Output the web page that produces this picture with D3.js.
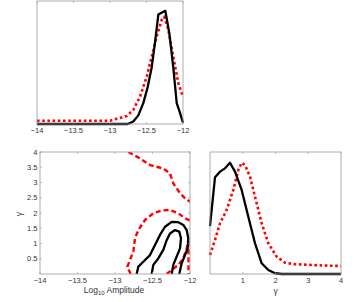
<!DOCTYPE html>
<meta charset="utf-8">
<html>
  <head>
    <script src="https://d3js.org/d3.v7.min.js"></script>
    <style>
      body { margin: 0; background: #fff; }
      text { font-family: "Liberation Sans", Arial, sans-serif; fill: #333; }
    </style>
  </head>
  <body>
    <svg id="viz" width="354" height="302"></svg>
    <script>
    // amplitude marginal (log10 amplitude, normalised density)
    const ampBlack = [[-14,0],[-12.8,0],[-12.757,0],[-12.681,0.02],[-12.612,0.07],[-12.544,0.17],[-12.484,0.30],
      [-12.429,0.46],[-12.384,0.66],[-12.338,0.89],[-12.242,0.92],[-12.188,0.74],[-12.133,0.46],[-12.086,0.17],
      [-12.041,0.09],[-12,0.01]];
    const ampRed = [[-14,0.027],[-13.0,0.027],[-12.886,0.046],[-12.771,0.065],[-12.681,0.114],[-12.589,0.222],
      [-12.497,0.385],[-12.429,0.547],[-12.36,0.71],[-12.292,0.846],[-12.256,0.872],[-12.201,0.764],
      [-12.133,0.547],[-12.064,0.331],[-12,0.222]];

    // gamma marginal
    const gamBlack = [[0,0.393],[0.153,0.793],[0.305,0.839],[0.458,0.866],[0.611,0.912],[0.763,0.839],
      [0.967,0.689],[1.17,0.47],[1.374,0.252],[1.578,0.088],[1.781,0.033],[1.985,0.006],[2.2,0],[4,0]];
    const gamRed = [[0,0.156],[0.153,0.279],[0.305,0.416],[0.509,0.525],[0.712,0.689],[0.865,0.852],
      [0.967,0.912],[1.069,0.893],[1.221,0.798],[1.374,0.634],[1.578,0.416],[1.781,0.252],[2.036,0.142],
      [2.29,0.093],[2.595,0.08],[3.104,0.074],[3.613,0.068],[4,0.066]];

    // joint contours (log10 amplitude, gamma)
    const blackOuter = [[-12.711,0],[-12.689,0.24],[-12.623,0.40],[-12.533,0.62],[-12.467,0.95],[-12.4,1.28],
      [-12.333,1.55],[-12.244,1.71],[-12.156,1.70],[-12.089,1.61],[-12.044,1.44],[-12.023,1.17],
      [-12.031,0.84],[-12.067,0.62],[-12.111,0.35],[-12.143,0]];
    const blackInner = [[-12.511,0],[-12.489,0.30],[-12.423,0.51],[-12.356,0.79],[-12.311,1.11],[-12.267,1.33],
      [-12.2,1.44],[-12.143,1.39],[-12.12,1.17],[-12.133,0.84],[-12.178,0.57],[-12.223,0.30],[-12.244,0]];
    const redInner = [[-12.791,0],[-12.836,0.24],[-12.756,0.73],[-12.733,1.17],[-12.689,1.44],[-12.6,1.77],
      [-12.489,1.99],[-12.377,2.08],[-12.267,2.10],[-12.156,1.99],[-12.067,1.83],[-12,1.75]];
    const redOuter = [[-12.822,4.0],[-12.667,3.79],[-12.533,3.57],[-12.356,3.46],[-12.267,3.30],[-12.223,2.97],
      [-12.133,2.65],[-12.067,2.48],[-12,2.37]];
    const redCorner = [[-12.311,0],[-12.156,0.30],[-12.089,0.51],[-12.044,0.84],[-12.023,1.06],[-12.02,0.62],[-12.02,0]];

    const ampTicks = [-14, -13.5, -13, -12.5, -12];
    const gamTicks = [0.5, 1, 1.5, 2, 2.5, 3, 3.5, 4];
    const gamXTicks = [1, 2, 3, 4];

    const svg = d3.select("#viz");
    const fmt = d => (d < 0 ? "\u2212" + Math.abs(d) : "" + d);

    function panel(x0, x1, y0, y1, xdom, ydom) {
      var x = d3.scaleLinear().domain(xdom).range([x0, x1]);
      var y = d3.scaleLinear().domain(ydom).range([y1, y0]);
      var g = svg.append("g");
      return {x: x, y: y, g: g};
    }

    function box(p, xt, yt) {
      var g = p.g;
      var r = p.x.range(), ry = p.y.range();
      // ticks on bottom/top (inward)
      xt.forEach(function(t) {
        g.append("line").attr("x1", p.x(t)).attr("x2", p.x(t)).attr("y1", ry[0]).attr("y2", ry[0] - 2)
          .attr("stroke", "#999").attr("stroke-width", 0.6);
        g.append("line").attr("x1", p.x(t)).attr("x2", p.x(t)).attr("y1", ry[1]).attr("y2", ry[1] + 2)
          .attr("stroke", "#999").attr("stroke-width", 0.6);
        g.append("text").attr("x", p.x(t)).attr("y", ry[0] + 8.5).attr("text-anchor", "middle")
          .attr("font-size", 7.5).text(fmt(t));
      });
      (yt || []).forEach(function(t) {
        g.append("line").attr("x1", r[0]).attr("x2", r[0] + 2).attr("y1", p.y(t)).attr("y2", p.y(t))
          .attr("stroke", "#999").attr("stroke-width", 0.6);
        g.append("line").attr("x1", r[1]).attr("x2", r[1] - 2).attr("y1", p.y(t)).attr("y2", p.y(t))
          .attr("stroke", "#999").attr("stroke-width", 0.6);
        g.append("text").attr("x", r[0] - 2.5).attr("y", p.y(t) + 2.7).attr("text-anchor", "end")
          .attr("font-size", 7.5).text(fmt(t));
      });
      g.append("rect").attr("x", r[0]).attr("y", ry[1]).attr("width", r[1] - r[0]).attr("height", ry[0] - ry[1])
        .attr("fill", "none").attr("stroke", "#999").attr("stroke-width", 0.8);
    }

    function curve(p, data, kind) {
      var line = d3.line().x(d => p.x(d[0])).y(d => p.y(d[1]));
      var path = p.g.append("path").datum(data).attr("d", line).attr("fill", "none")
        .attr("stroke-linejoin", "round");
      if (kind == "black") {
        path.attr("stroke", "#000").attr("stroke-width", 2.3);
      } else if (kind == "dot") {
        path.attr("stroke", "#ff0000").attr("stroke-width", 2.6).attr("stroke-dasharray", "2.6,2.6");
      } else {
        path.attr("stroke", "#ff0000").attr("stroke-width", 2.4).attr("stroke-dasharray", "5,3");
      }
    }

    // top-left: amplitude marginal
    var pa = panel(37, 183, 1, 124, [-14, -12], [0, 1]);
    curve(pa, ampRed, "dot");
    curve(pa, ampBlack, "black");
    box(pa, ampTicks, null);

    // bottom-left: joint
    var pj = panel(40, 190, 152, 274, [-14, -12], [0, 4]);
    svg.append("clipPath").attr("id", "clipj").append("rect")
      .attr("x", 40).attr("y", 152).attr("width", 150).attr("height", 122);
    pj.g.attr("clip-path", "url(#clipj)");
    curve(pj, redOuter, "dash");
    curve(pj, redInner, "dash");
    curve(pj, redCorner, "dash");
    curve(pj, blackOuter, "black");
    curve(pj, blackInner, "black");
    pj.g = svg.append("g");
    box(pj, ampTicks, gamTicks);
    var xl = svg.append("text").attr("x", 114).attr("y", 293).attr("text-anchor", "middle").attr("font-size", 8.5);
    xl.append("tspan").text("Log");
    xl.append("tspan").attr("font-size", 6).attr("dy", 2).text("10");
    xl.append("tspan").attr("dy", -2).text(" Amplitude");
    svg.append("text").attr("transform", "translate(22,214) rotate(-90)").attr("text-anchor", "middle")
      .attr("font-size", 8.5).text("\u03b3");

    // bottom-right: gamma marginal
    var pg = panel(210, 341, 152, 274, [0, 4], [0, 1]);
    curve(pg, gamRed, "dot");
    curve(pg, gamBlack, "black");
    box(pg, gamXTicks, null);
    svg.append("text").attr("x", 275.5).attr("y", 294).attr("text-anchor", "middle").attr("font-size", 8.5)
      .text("\u03b3");
    </script>
  </body>
</html>
